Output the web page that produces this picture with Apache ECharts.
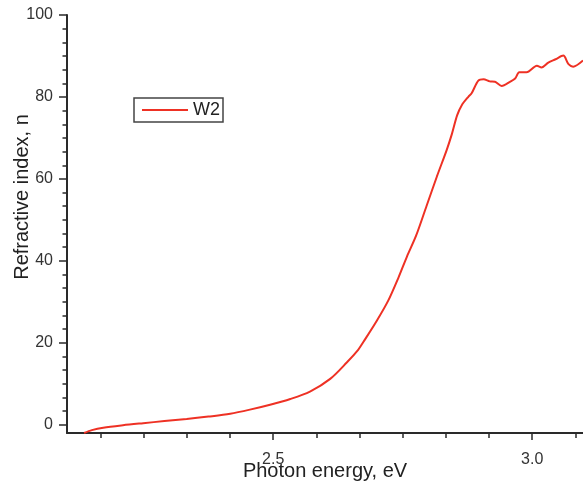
<!DOCTYPE html>
<html>
<head>
<meta charset="utf-8">
<script src="https://cdn.jsdelivr.net/npm/echarts@6/dist/echarts.min.js"></script>
<style>html,body{margin:0;padding:0;background:#fff}#c{width:583px;height:489px}</style>
</head>
<body>
<div id="c"></div>
<script>
const energy = [2.135, 2.150, 2.172, 2.210, 2.249, 2.290, 2.333, 2.375, 2.417, 2.455, 2.494, 2.533, 2.571, 2.610, 2.642, 2.664, 2.674, 2.700, 2.722, 2.742, 2.758, 2.776, 2.796, 2.816, 2.835, 2.845, 2.855, 2.864, 2.877, 2.883, 2.896, 2.906, 2.918, 2.928, 2.941, 2.957, 2.967, 2.975, 2.989, 3.009, 3.018, 3.031, 3.045, 3.060, 3.070, 3.079, 3.098];
const refractiveIndex = [-2.0, -1.3, -0.7, -0.1, 0.4, 0.9, 1.4, 2.0, 2.7, 3.7, 4.9, 6.3, 8.1, 11.2, 15.2, 18.3, 20.2, 25.4, 30.3, 36.0, 41.0, 46.2, 53.4, 60.6, 67.1, 71.0, 75.5, 78.0, 80.1, 80.9, 84.0, 84.3, 83.8, 83.7, 82.7, 83.7, 84.5, 86.0, 86.0, 87.6, 87.2, 88.4, 89.2, 90.1, 88.0, 87.4, 88.9];
const xMajorTicks = [2.5, 3.0];
const xMinorTicks = [2.1667, 2.25, 2.3333, 2.4167, 2.5833, 2.6667, 2.75, 2.8333, 2.9167, 3.0833];
const yMajorTicks = [0, 20, 40, 60, 80, 100];
const yMinorTicks = [3.333, 6.667, 10, 13.333, 16.667, 23.333, 26.667, 30, 33.333, 36.667, 43.333, 46.667, 50, 53.333, 56.667, 63.333, 66.667, 70, 73.333, 76.667, 83.333, 86.667, 90, 93.333, 96.667];
const seriesName = 'W2';
const xName = 'Photon energy, eV';
const yName = 'Refractive index, n';

const font = '"Liberation Sans", Arial, sans-serif';
const axisColor = '#2a2a2a';
const lineColor = '#ee3124';
const xMin = 2.102, xMax = 3.098, yMin = -2, yMax = 100;

const chart = echarts.init(document.getElementById('c'), null, {renderer: 'canvas'});
chart.setOption({
  animation: false,
  backgroundColor: '#ffffff',
  grid: {left: 67, right: 0, top: 15, bottom: 56, containLabel: false, outerBoundsMode: 'none'},
  legend: {
    left: 134, top: 98,
    orient: 'vertical',
    padding: [3, 3, 3, 8],
    borderColor: '#444', borderWidth: 1.5,
    itemWidth: 46, itemHeight: 2,
    textStyle: {fontFamily: font, fontSize: 18, color: '#222'},
    data: [{name: seriesName, icon: 'rect', itemStyle: {color: lineColor}}]
  },
  xAxis: [{
    type: 'value', min: xMin, max: xMax, position: 'bottom',
    name: xName, nameLocation: 'middle', nameGap: 28, nameMoveOverlap: false,
    nameTextStyle: {fontFamily: font, fontSize: 20, color: '#222'},
    axisLine: {onZero: false, lineStyle: {color: axisColor, width: 2}},
    axisTick: {show: true, customValues: xMajorTicks, length: 7, lineStyle: {color: axisColor, width: 1.5}},
    axisLabel: {customValues: xMajorTicks, margin: 19, fontFamily: font, fontSize: 16, color: '#333', formatter: v => v.toFixed(1)},
    splitLine: {show: false}
  }, {
    type: 'value', min: xMin, max: xMax, position: 'bottom',
    axisLine: {show: false, onZero: false},
    axisTick: {show: true, customValues: xMinorTicks, length: 5, lineStyle: {color: axisColor, width: 1.5}},
    axisLabel: {show: false},
    splitLine: {show: false}
  }],
  yAxis: [{
    type: 'value', min: yMin, max: yMax, position: 'left',
    name: yName, nameLocation: 'middle', nameGap: 35, nameMoveOverlap: false,
    nameTextStyle: {fontFamily: font, fontSize: 20, color: '#222', padding: [0, 0, 0, 54]},
    axisLine: {show: true, onZero: false, lineStyle: {color: axisColor, width: 2}},
    axisTick: {show: true, customValues: yMajorTicks, length: 8, lineStyle: {color: axisColor, width: 1.5}},
    axisLabel: {customValues: yMajorTicks, margin: 14, fontFamily: font, fontSize: 16, color: '#333'},
    splitLine: {show: false}
  }, {
    type: 'value', min: yMin, max: yMax, position: 'left',
    axisLine: {show: false, onZero: false},
    axisTick: {show: true, customValues: yMinorTicks, length: 4.5, lineStyle: {color: axisColor, width: 1.5}},
    axisLabel: {show: false},
    splitLine: {show: false}
  }],
  series: [{
    name: seriesName,
    type: 'line',
    xAxisIndex: 0, yAxisIndex: 0,
    data: energy.map((e, i) => [e, refractiveIndex[i]]),
    symbol: 'none', smooth: 0.3,
    lineStyle: {color: lineColor, width: 2},
    itemStyle: {color: lineColor},
    clip: true
  }]
});
</script>
</body>
</html>
